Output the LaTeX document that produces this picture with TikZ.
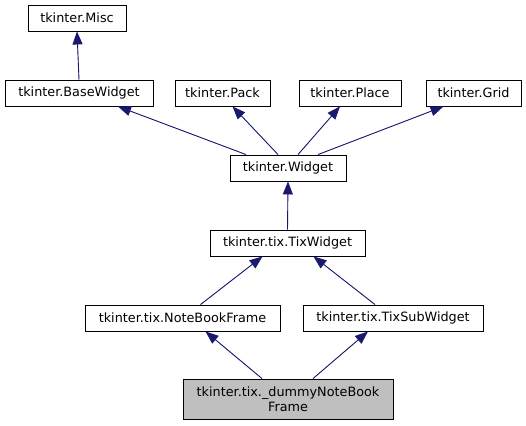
\documentclass[tikz,border=0pt]{standalone}
\usepackage{fontspec}
\setmainfont{DejaVu Sans}
\usetikzlibrary{arrows.meta,calc}
\definecolor{edgeblue}{HTML}{191970}
\definecolor{curgray}{HTML}{BFBFBF}
\tikzset{
  cls/.style={draw,line width=0.9pt,fill=white,align=center,inner sep=1pt,
              font=\fontsize{12.8}{15}\selectfont,minimum height=26pt},
  cur/.style={cls,fill=curgray,minimum height=40pt},
  inh/.style={-{Triangle[length=13pt,width=10pt]},draw=edgeblue,fill=edgeblue,line width=0.9pt},
}
\begin{document}
\begin{tikzpicture}[x=1pt,y=-1pt]
\useasboundingbox (0,0) rectangle (526,425);
% top row
\node[cls,minimum width=98pt] (misc) at (77,18) {tkinter.Misc};
\node[cls,minimum width=148pt] (basew) at (79,93) {tkinter.BaseWidget};
\node[cls,minimum width=95pt] (pack) at (222.5,93) {tkinter.Pack};
\node[cls,minimum width=102pt] (place) at (350,93) {tkinter.Place};
\node[cls,minimum width=95pt] (grid) at (473.5,93) {tkinter.Grid};
% middle
\node[cls,minimum width=116pt] (widget) at (288,168) {tkinter.Widget};
\node[cls,minimum width=155pt] (tixw) at (287.5,243) {tkinter.tix.TixWidget};
\node[cls,minimum width=195pt] (nbframe) at (182.5,318) {tkinter.tix.NoteBookFrame};
\node[cls,minimum width=180pt] (tixsub) at (393,318) {tkinter.tix.TixSubWidget};
% current class
\node[cur,minimum width=210pt] (dummy) at (288,399) {tkinter.tix.\_dummyNoteBook\\Frame};
% inheritance
\draw[inh] (basew.north) -- (misc.south);
\draw[inh] ($(widget.north)+(-42,0)$) -- ($(basew.south)+(39,0)$);
\draw[inh] ($(widget.north)+(-10,0)$) -- ($(pack.south)+(10,0)$);
\draw[inh] ($(widget.north)+(10,0)$) -- ($(place.south)+(-10,0)$);
\draw[inh] ($(widget.north)+(30,0)$) -- ($(grid.south)+(-30,0)$);
\draw[inh] (tixw.north) -- (widget.south);
\draw[inh] ($(nbframe.north)+(18,0)$) -- ($(tixw.south)+(-25,0)$);
\draw[inh] ($(tixsub.north)+(-18,0)$) -- ($(tixw.south)+(26,0)$);
\draw[inh] ($(dummy.north)+(-26,0)$) -- ($(nbframe.south)+(23,0)$);
\draw[inh] ($(dummy.north)+(25,0)$) -- ($(tixsub.south)+(-25,0)$);
\end{tikzpicture}
\end{document}
